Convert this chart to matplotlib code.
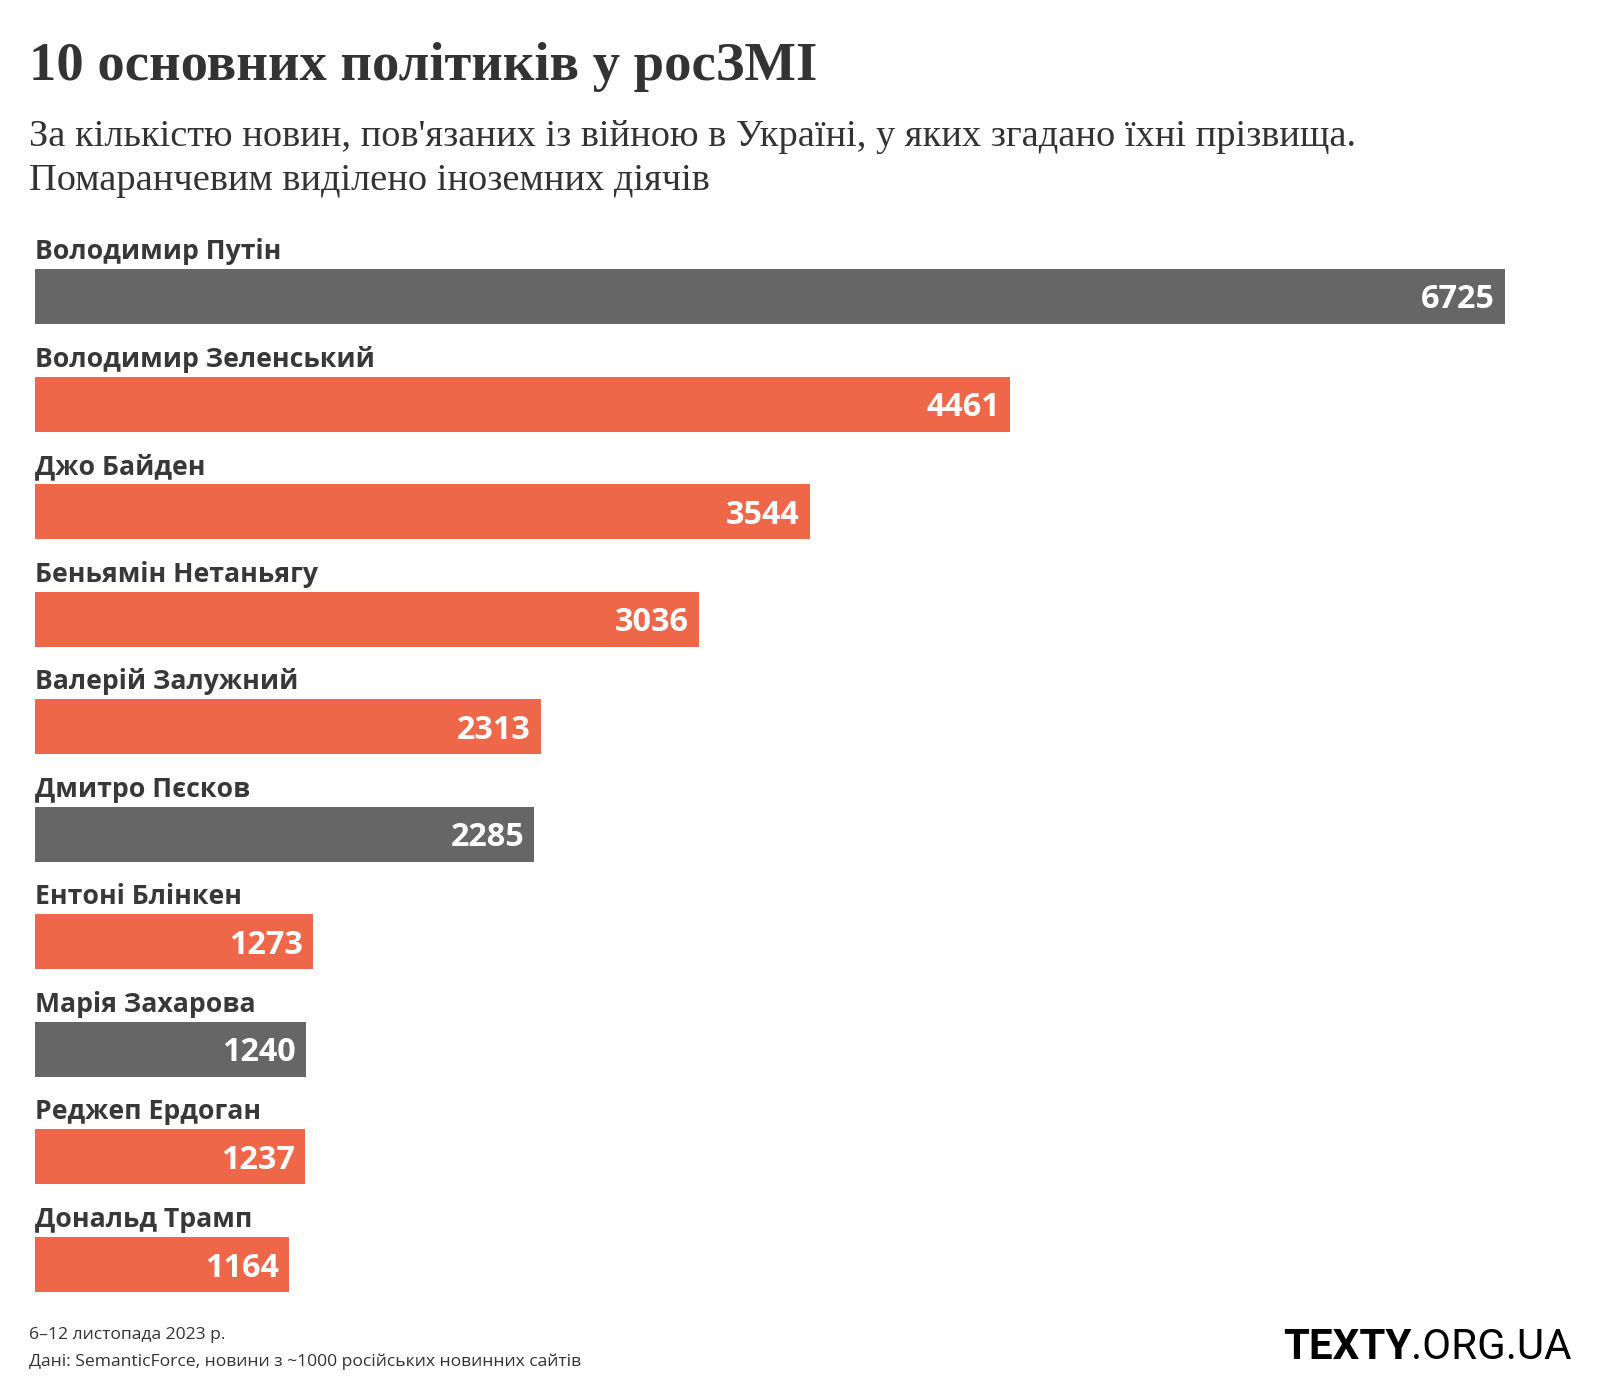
import matplotlib
matplotlib.use("Agg")
import matplotlib.pyplot as plt
from matplotlib import transforms

names = ["Володимир Путін", "Володимир Зеленський", "Джо Байден", "Беньямін Нетаньягу",
         "Валерій Залужний", "Дмитро Пєсков", "Ентоні Блінкен", "Марія Захарова",
         "Реджеп Ердоган", "Дональд Трамп"]
values = [6725, 4461, 3544, 3036, 2313, 2285, 1273, 1240, 1237, 1164]
foreign = [False, True, True, True, True, False, True, False, True, True]

title = "10 основних політиків у росЗМІ"
subtitle1 = "За кількістю новин, пов'язаних із війною в Україні, у яких згадано їхні прізвища."
subtitle2 = "Помаранчевим виділено іноземних діячів"
foot1 = "6–12 листопада 2023 р."
foot2 = "Дані: SemanticForce, новини з ~1000 російських новинних сайтів"

GRAY = "#666666"
ORANGE = "#EE6748"
TEXT = "#383838"

W, H = 1600, 1400
fig = plt.figure(figsize=(16, 14), dpi=100)
fig.patch.set_facecolor("white")

def fy(px):
    return 1 - px / H

def fx(px):
    return px / W

renderer = fig.canvas.get_renderer()

def fit(t, target_w):
    bb = t.get_window_extent(renderer)
    t.set_fontsize(t.get_fontsize() * target_w / bb.width)

# Axes for bars
bar_h = 55 / 107.6
top_px, bot_px = 269, 1292
ax = fig.add_axes([fx(35), fy(bot_px), fx(1505) - fx(35), fy(top_px) - fy(bot_px)])
ypos = list(range(len(values)))
colors = [ORANGE if f else GRAY for f in foreign]
ax.barh(ypos, values, height=bar_h, color=colors, align="center")
ax.set_xlim(0, max(values))
ax.set_ylim(len(values) - 1 + bar_h / 2, -bar_h / 2)
ax.axis("off")

name_tr = transforms.offset_copy(ax.transData, fig=fig, x=0, y=10, units="dots")
val_tr = transforms.offset_copy(ax.transData, fig=fig, x=-10, y=-12, units="dots")
for i, (n, v) in enumerate(zip(names, values)):
    ax.text(0, i - bar_h / 2, n, transform=name_tr, ha="left", va="baseline",
            fontsize=19.2, fontweight="bold", family="Open Sans", color=TEXT, clip_on=False)
    ax.text(v, i, str(v), transform=val_tr, ha="right", va="baseline",
            fontsize=23.3, fontweight="bold", family="Open Sans", color="white")

# Title
t = fig.text(fx(29), fy(80), title, ha="left", va="baseline", fontsize=40,
             fontweight="bold", family="Liberation Serif", color="#333333")
fit(t, 787)
s1 = fig.text(fx(29), fy(146), subtitle1, ha="left", va="baseline", fontsize=24,
              family="Liberation Serif", color="#333333")
fit(s1, 1327)
s2 = fig.text(fx(29), fy(190), subtitle2, ha="left", va="baseline", fontsize=s1.get_fontsize(),
              family="Liberation Serif", color="#333333")

# Footer
f1 = fig.text(fx(29), fy(1339), foot1, ha="left", va="baseline", fontsize=11,
              family="Open Sans", color="#333333")
f2 = fig.text(fx(29), fy(1366), foot2, ha="left", va="baseline", fontsize=11,
              family="Open Sans", color="#333333")
fit(f2, 551)
f1.set_fontsize(f2.get_fontsize())

# Logo
l1 = fig.text(fx(1283), fy(1359), "TEXTY", ha="left", va="baseline", fontsize=30,
              fontweight="bold", family="Roboto", color="black")
l2 = fig.text(fx(1283), fy(1359), ".ORG.UA", ha="left", va="baseline", fontsize=30,
              fontweight="normal", family="Roboto", color="black")
w1 = l1.get_window_extent(renderer).width
w2 = l2.get_window_extent(renderer).width
scale = (1571 - 1283) / (w1 + w2)
l1.set_fontsize(30 * scale)
l2.set_fontsize(30 * scale)
w1 = l1.get_window_extent(renderer).width
l2.set_position((fx(1283 + w1), fy(1359)))

fig.savefig("out.png", dpi=100, facecolor="white")
